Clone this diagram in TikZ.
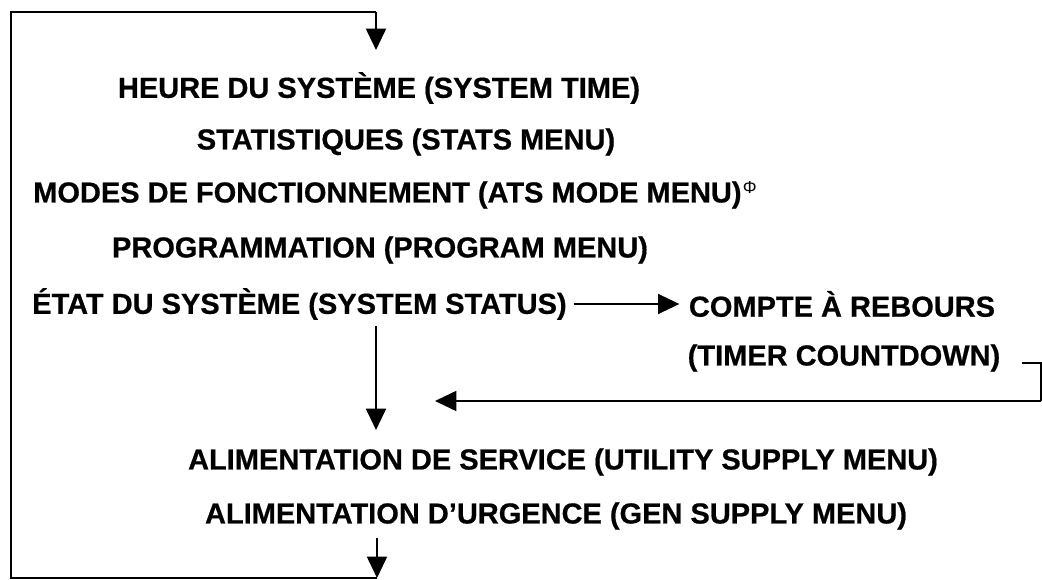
\documentclass[tikz,border=0pt]{standalone}
\usepackage{fontspec}
\setmainfont{Liberation Sans}[BoldFeatures={FakeBold=0.6}]
\usetikzlibrary{arrows.meta}

\tikzset{
  menu/.style={inner sep=0pt, font=\fontsize{21.75pt}{26pt}\selectfont\bfseries},
  wire/.style={line width=1.4pt, line join=miter},
  flow/.style={wire, -{Triangle[width=15pt, length=16pt]}},
}

\begin{document}
\begin{tikzpicture}[x=0.75pt, y=-0.75pt]
  \useasboundingbox (0,0) rectangle (1042,580);

  % menu entries
  \node[menu] (heure) at (379,88) {HEURE DU SYSTÈME (SYSTEM TIME)};
  \node[menu] (stats) at (406,142) {STATISTIQUES (STATS MENU)};
  \node[menu, anchor=west] (modes) at (33,195)
    {MODES DE FONCTIONNEMENT (ATS MODE MENU)\kern1pt\raisebox{6.5pt}{\fontsize{13pt}{14pt}\selectfont\mdseries Φ}};
  \node[menu] (prog) at (380,250) {PROGRAMMATION (PROGRAM MENU)};
  \node[menu, anchor=west] (etat) at (32,304) {ÉTAT DU SYSTÈME (SYSTEM STATUS)};
  \node[menu] (compte) at (842,304) {COMPTE À REBOURS};
  \node[menu] (timer) at (844,358) {(TIMER COUNTDOWN)};
  \node[menu] (util) at (563,462) {ALIMENTATION DE SERVICE (UTILITY SUPPLY MENU)};
  \node[menu] (gen) at (556,516) {ALIMENTATION D’URGENCE (GEN SUPPLY MENU)};

  % loop corners and arrow ends
  \coordinate (top0) at (376,12);
  \coordinate (top1) at (376,50);
  \coordinate (cornerTL) at (11,12);
  \coordinate (cornerBL) at (11,578);
  \coordinate (bot0) at (377,538);
  \coordinate (bot1) at (377,578);
  \coordinate (st0) at (376,326);
  \coordinate (st1) at (376,430);
  \coordinate (tm0) at (1022,363);
  \coordinate (tmR) at (1041,363);
  \coordinate (tmB) at (1041,401);
  \coordinate (tm1) at (435,401);

  % return loop from the last entry back to the first
  \draw[flow] (bot0) -- (bot1);
  \draw[wire] (bot1) -- (cornerBL) -- (cornerTL) -- (top0);
  \draw[flow] (top0) -- (top1);

  % system status branches
  \draw[flow] ([xshift=5pt]etat.east) -- ([xshift=-7pt]compte.west);
  \draw[flow] (st0) -- (st1);
  \draw[wire] (tm0) -- (tmR) -- (tmB);
  \draw[flow] (tmB) -- (tm1);
\end{tikzpicture}
\end{document}
